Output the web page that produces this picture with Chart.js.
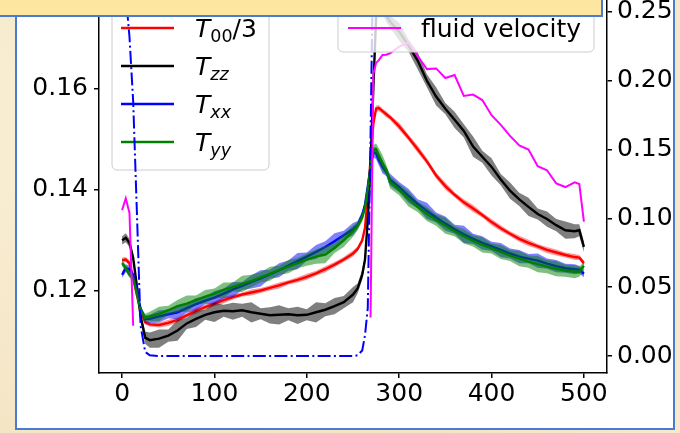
<!DOCTYPE html>
<html>
<head>
<meta charset="utf-8">
<script src="https://cdn.jsdelivr.net/npm/chart.js@4.4.1/dist/chart.umd.min.js"></script>
<style>
  html, body { margin: 0; padding: 0; }
  body {
    width: 680px; height: 433px; overflow: hidden; position: relative;
    background: radial-gradient(circle at 20% 30%, #fbf1da 0%, #f3e4c2 60%, #f6e9cd 100%);
  }
  #panel {
    position: absolute; left: 15px; top: -4px; width: 656px; height: 430px;
    background: #fff; border: 2px solid #4a7bd2;
  }
  #banner {
    position: absolute; left: 0; top: 0; width: 601px; height: 15px;
    background: #fde69f; border-bottom: 2px solid #4a7bd2; border-right: 2px solid #4a7bd2;
    overflow: hidden; z-index: 3;
  }
  #banner span {
    position: absolute; left: 30px; top: -24px; color: #d00000;
    font: bold 22px "DejaVu Sans", sans-serif; white-space: nowrap;
  }
  #chart { position: absolute; left: 0; top: 0; z-index: 2; }
</style>
</head>
<body>
<div id="panel"></div>
<div id="banner"><span>Energy–momentum tensor</span></div>
<canvas id="chart" width="680" height="433"></canvas>
<script>
// time axis (same samples for every curve)
const xs = [0,4,8,12,16,20,25,30,
  40,50,60,70,80,90,100,110,120,130,140,150,160,170,180,190,200,210,220,230,240,250,
  255,260,263,266,269,272,275,278,282,286,290,
  300,310,320,330,340,350,360,370,380,390,400,410,420,430,440,450,460,470,480,490,
  495,500];

// left axis: tensor components
const t00 = [0.1261,0.1262,0.1255,0.1225,0.1192,0.1160,0.1138,0.1134,
  0.1133,0.1137,0.1143,0.1152,0.1161,0.1168,0.1175,0.1182,0.1188,0.1193,0.1197,0.1201,0.1206,0.1211,0.1217,0.1222,0.1228,0.1235,0.1243,0.1252,0.1262,0.1274,
  0.1283,0.1300,0.1325,0.1386,0.1460,0.1530,0.1560,0.1561,0.1555,0.1549,0.1543,
  0.1525,0.1503,0.1480,0.1456,0.1428,0.1407,0.1390,0.1375,0.1363,0.1350,0.1336,0.1324,0.1313,0.1303,0.1295,0.1288,0.1281,0.1276,0.1271,0.1267,
  0.1266,0.1255];
const tzz = [0.1300,0.1305,0.1295,0.1265,0.1210,0.1150,0.1108,0.1103,
  0.1106,0.1112,0.1122,0.1136,0.1145,0.1153,0.1158,0.1161,0.1160,0.1162,0.1158,0.1155,0.1152,0.1153,0.1154,0.1152,0.1153,0.1158,0.1163,0.1170,0.1178,0.1193,
  0.1205,0.1232,0.1262,0.1340,0.1450,0.1600,0.1740,0.1790,0.1765,0.1745,0.1732,
  0.1712,0.1685,0.1655,0.1615,0.1584,0.1560,0.1538,0.1516,0.1485,0.1465,0.1445,0.1420,0.1398,0.1381,0.1366,0.1352,0.1342,0.1330,0.1320,0.1318,
  0.1320,0.1287];
const txx = [0.1232,0.1245,0.1243,0.1232,0.1200,0.1165,0.1145,0.1145,
  0.1150,0.1154,0.1158,0.1166,0.1174,0.1181,0.1187,0.1195,0.1203,0.1210,0.1218,0.1225,0.1233,0.1241,0.1250,0.1259,0.1268,0.1277,0.1287,0.1298,0.1310,0.1322,
  0.1330,0.1350,0.1370,0.1406,0.1445,0.1474,0.1472,0.1458,0.1445,0.1435,0.1420,
  0.1405,0.1388,0.1372,0.1358,0.1345,0.1333,0.1322,0.1312,0.1303,0.1295,0.1288,0.1281,0.1274,0.1268,0.1264,0.1260,0.1254,0.1249,0.1245,0.1243,
  0.1242,0.1234];
const tyy = [0.1255,0.1245,0.1232,0.1225,0.1195,0.1162,0.1147,0.1150,
  0.1155,0.1162,0.1170,0.1175,0.1182,0.1189,0.1195,0.1202,0.1208,0.1214,0.1220,0.1227,0.1234,0.1241,0.1248,0.1255,0.1262,0.1268,0.1272,0.1285,0.1300,0.1318,
  0.1328,0.1345,0.1365,0.1400,0.1445,0.1478,0.1480,0.1468,0.1452,0.1440,0.1415,
  0.1400,0.1382,0.1366,0.1352,0.1340,0.1329,0.1318,0.1308,0.1299,0.1291,0.1284,0.1277,0.1270,0.1264,0.1258,0.1253,0.1248,0.1244,0.1240,0.1238,
  0.1238,0.1250];

// half widths of the shaded bands
const t00Err = [0.0005,0.0005,0.0005,0.0005,0.0005,0.0005,0.0004,0.0004,
  0.0005,0.0006,0.0005,0.0004,0.0006,0.0005,0.0005,0.0006,0.0005,0.0004,0.0006,0.0005,0.0005,0.0006,0.0004,0.0005,0.0006,0.0005,0.0006,0.0005,0.0005,0.0006,
  0.0005,0.0005,0.0006,0.0006,0.0006,0.0006,0.0006,0.0006,0.0005,0.0006,0.0005,
  0.0007,0.0006,0.0007,0.0006,0.0006,0.0007,0.0005,0.0006,0.0007,0.0005,0.0006,0.0006,0.0005,0.0006,0.0006,0.0005,0.0006,0.0006,0.0005,0.0006,
  0.0005,0.0005];
const tzzErr = [0.0008,0.0009,0.0008,0.0008,0.0008,0.0009,0.0012,0.0015,
  0.0018,0.0012,0.0020,0.0011,0.0016,0.0010,0.0019,0.0012,0.0017,0.0013,0.0020,0.0011,0.0016,0.0019,0.0012,0.0017,0.0011,0.0020,0.0013,0.0016,0.0012,0.0015,
  0.0010,0.0010,0.0010,0.0012,0.0012,0.0012,0.0014,0.0016,0.0018,0.0014,0.0012,
  0.0018,0.0012,0.0017,0.0013,0.0018,0.0011,0.0016,0.0013,0.0020,0.0012,0.0017,0.0011,0.0016,0.0013,0.0018,0.0011,0.0015,0.0012,0.0017,0.0014,
  0.0012,0.0010];
const txxErr = [0.0006,0.0008,0.0007,0.0006,0.0006,0.0006,0.0007,0.0008,
  0.0012,0.0008,0.0014,0.0009,0.0012,0.0007,0.0013,0.0010,0.0015,0.0008,0.0013,0.0016,0.0009,0.0014,0.0010,0.0016,0.0008,0.0014,0.0011,0.0016,0.0009,0.0012,
  0.0008,0.0008,0.0008,0.0010,0.0010,0.0010,0.0012,0.0010,0.0013,0.0008,0.0012,
  0.0010,0.0014,0.0009,0.0016,0.0010,0.0014,0.0009,0.0017,0.0010,0.0013,0.0009,0.0014,0.0010,0.0013,0.0009,0.0014,0.0010,0.0012,0.0009,0.0010,
  0.0008,0.0007];
const tyyErr = [0.0006,0.0007,0.0006,0.0006,0.0006,0.0006,0.0008,0.0009,
  0.0014,0.0009,0.0012,0.0016,0.0009,0.0013,0.0010,0.0015,0.0009,0.0016,0.0012,0.0010,0.0014,0.0009,0.0013,0.0010,0.0012,0.0014,0.0017,0.0010,0.0013,0.0011,
  0.0008,0.0008,0.0008,0.0010,0.0010,0.0010,0.0011,0.0014,0.0016,0.0010,0.0012,
  0.0011,0.0015,0.0010,0.0014,0.0011,0.0016,0.0010,0.0014,0.0011,0.0015,0.0010,0.0014,0.0011,0.0015,0.0012,0.0016,0.0013,0.0015,0.0012,0.0013,
  0.0010,0.0008];

// right axis: fluid velocity and the dash-dot profile
const velocity = [0.106,0.1146,0.104,0.022,null,null,null,null,
  null,null,null,null,null,null,null,null,null,null,null,null,null,null,null,null,null,null,null,null,null,null,
  null,null,null,null,0.028,0.205,0.213,0.215,0.2188,0.219,0.220,
  0.2248,0.2280,0.2180,0.2085,0.2090,0.2020,0.2042,0.1890,0.1900,0.1860,0.1750,0.1680,0.1600,0.1530,0.1500,0.1380,0.1350,0.1255,0.1228,0.1262,
  0.1250,0.0976];
const profile = [0.30,0.262,0.232,0.185,0.105,0.022,0.003,0.0005,
  0,0,0,0,0,0,0,0,0,0,0,0,0,0,0,0,0,0,0,0,0,0,
  0.0005,0.004,0.015,0.035,0.16,0.30,0.35,0.35,0.35,0.35,0.35,
  0.35,0.35,0.35,0.35,0.35,0.35,0.35,0.35,0.35,0.35,0.35,0.35,0.35,0.35,0.35,0.35,0.35,0.35,0.35,0.35,
  0.35,0.35];

const xTicks = [0,100,200,300,400,500];
const xTickLabels = ['0','100','200','300','400','500'];
const yTicks = [0.12,0.14,0.16];
const yTickLabels = ['0.12','0.14','0.16'];
const y2Ticks = [0,0.05,0.10,0.15,0.20,0.25];
const y2TickLabels = ['0.00','0.05','0.10','0.15','0.20','0.25'];

const pts = arr => xs.map((x, i) => ({x, y: arr[i]}));
const shifted = (arr, err, s) => xs.map((x, i) => ({x, y: arr[i] + s * err[i]}));

const FONT = '"DejaVu Sans", sans-serif';
const series = [
  {data: t00, err: t00Err, color: '#ff0000', band: 'rgba(255,0,0,0.42)', label: [['T','i'],['00','s'],['/3','n']]},
  {data: tzz, err: tzzErr, color: '#000000', band: 'rgba(0,0,0,0.5)',    label: [['T','i'],['zz','si']]},
  {data: txx, err: txxErr, color: '#0000ff', band: 'rgba(0,0,255,0.5)',  label: [['T','i'],['xx','si']]},
  {data: tyy, err: tyyErr, color: '#008000', band: 'rgba(0,128,0,0.5)',  label: [['T','i'],['yy','si']]}
];

const datasets = [];
let ord = 100;
series.forEach((s, k) => {
  datasets.push({data: shifted(s.data, s.err, 1), yAxisID: 'y', borderWidth: 0, pointRadius: 0,
    backgroundColor: s.band, fill: '+1', order: ord--});
  datasets.push({data: shifted(s.data, s.err, -1), yAxisID: 'y', borderWidth: 0, pointRadius: 0,
    fill: false, order: ord--});
  datasets.push({data: pts(s.data), yAxisID: 'y', borderColor: s.color, borderWidth: 2.4, pointRadius: 0,
    fill: false, order: ord--, legendAfter: k === series.length - 1});
});
datasets.push({data: pts(profile), yAxisID: 'y2', borderColor: '#0000ff', borderWidth: 2,
  borderDash: [13, 3.3, 2, 3.3], pointRadius: 0, fill: false, order: 10});
datasets.push({data: pts(velocity), yAxisID: 'y2', borderColor: '#ff00ff', borderWidth: 2,
  pointRadius: 0, fill: false, spanGaps: false, order: 9});

function legendBox(ctx, x0, y0, x1, y1) {
  const r = 5;
  ctx.beginPath();
  ctx.moveTo(x0 + r, y0);
  ctx.arcTo(x1, y0, x1, y1, r);
  ctx.arcTo(x1, y1, x0, y1, r);
  ctx.arcTo(x0, y1, x0, y0, r);
  ctx.arcTo(x0, y0, x1, y0, r);
  ctx.closePath();
  ctx.fillStyle = 'rgba(255,255,255,0.8)';
  ctx.fill();
  ctx.strokeStyle = '#cccccc';
  ctx.lineWidth = 1;
  ctx.stroke();
}

function mathText(ctx, parts, x, base) {
  parts.forEach(([t, kind]) => {
    const sub = kind[0] === 's';
    const italic = kind === 'i' || kind === 'si';
    ctx.font = (italic ? 'italic ' : '') + (sub ? '17.5px ' : '25px ') + FONT;
    ctx.fillText(t, x, base + (sub ? 5 : 0));
    x += ctx.measureText(t).width;
  });
}

// legends are placed in page pixels; the canvas is shifted up by chartArea.top
function drawLeftLegend(chart) {
  const ctx = chart.ctx;
  ctx.save();
  ctx.translate(0, chart.chartArea.top);
  legendBox(ctx, 112, -10, 269, 170);
  ctx.textBaseline = 'alphabetic';
  series.forEach((s, i) => {
    const y = 28 + i * 38;
    ctx.strokeStyle = s.color; ctx.lineWidth = 2.4;
    ctx.beginPath(); ctx.moveTo(121, y); ctx.lineTo(174, y); ctx.stroke();
    ctx.fillStyle = '#000';
    mathText(ctx, s.label, 195, y + 9);
  });
  ctx.restore();
}

function drawRightLegend(chart) {
  const ctx = chart.ctx;
  ctx.save();
  ctx.translate(0, chart.chartArea.top);
  legendBox(ctx, 338, -10, 594, 52);
  ctx.strokeStyle = '#ff00ff'; ctx.lineWidth = 2;
  ctx.beginPath(); ctx.moveTo(348, 28); ctx.lineTo(401, 28); ctx.stroke();
  ctx.fillStyle = '#000';
  ctx.font = '25px ' + FONT;
  ctx.textBaseline = 'alphabetic';
  ctx.fillText('fluid velocity', 421, 37);
  ctx.restore();
}

const legends = {
  id: 'legends',
  afterDatasetDraw(chart, args) {
    if (chart.data.datasets[args.index].legendAfter) drawLeftLegend(chart);
  },
  afterDatasetsDraw(chart) { drawRightLegend(chart); }
};

const axisStyle = (ticks, labels, pad) => ({
  afterBuildTicks: s => { s.ticks = ticks.map(v => ({value: v})); },
  ticks: {
    font: {family: 'DejaVu Sans', size: 25}, color: '#000', padding: pad,
    callback: v => labels[ticks.findIndex(t => Math.abs(t - v) < 1e-9)]
  },
  grid: {display: true, drawOnChartArea: false, drawTicks: true, tickLength: 5, color: '#000', lineWidth: 1.5},
  border: {display: true, color: '#000', width: 1.5}
});

const canvas = document.getElementById('chart');
const chart = new Chart(canvas, {
  type: 'line',
  data: {datasets},
  options: {
    responsive: false, maintainAspectRatio: false, animation: false, devicePixelRatio: 1,
    layout: {padding: 0},
    plugins: {legend: {display: false}, tooltip: {enabled: false}},
    scales: {
      x: Object.assign({type: 'linear', position: 'bottom', min: -25, max: 525,
        afterFit: s => { s.height = 60; }}, axisStyle(xTicks, xTickLabels, 1)),
      y: Object.assign({type: 'linear', position: 'left', min: 0.10381, max: 0.17745,
        afterFit: s => { s.width = 99; }}, axisStyle(yTicks, yTickLabels, 6)),
      y2: Object.assign({type: 'linear', position: 'right', min: -0.01235, max: 0.25872,
        afterFit: s => { s.width = 73; }}, axisStyle(y2Ticks, y2TickLabels, 5))
    }
  },
  plugins: [legends]
});

// plot frame in the picture runs from y=0 (under the banner) to y=373
const ca = chart.chartArea;
const below = canvas.height - ca.bottom;
canvas.style.top = (-ca.top) + 'px';
chart.resize(680, Math.round(373 + ca.top + below));
</script>
</body>
</html>
